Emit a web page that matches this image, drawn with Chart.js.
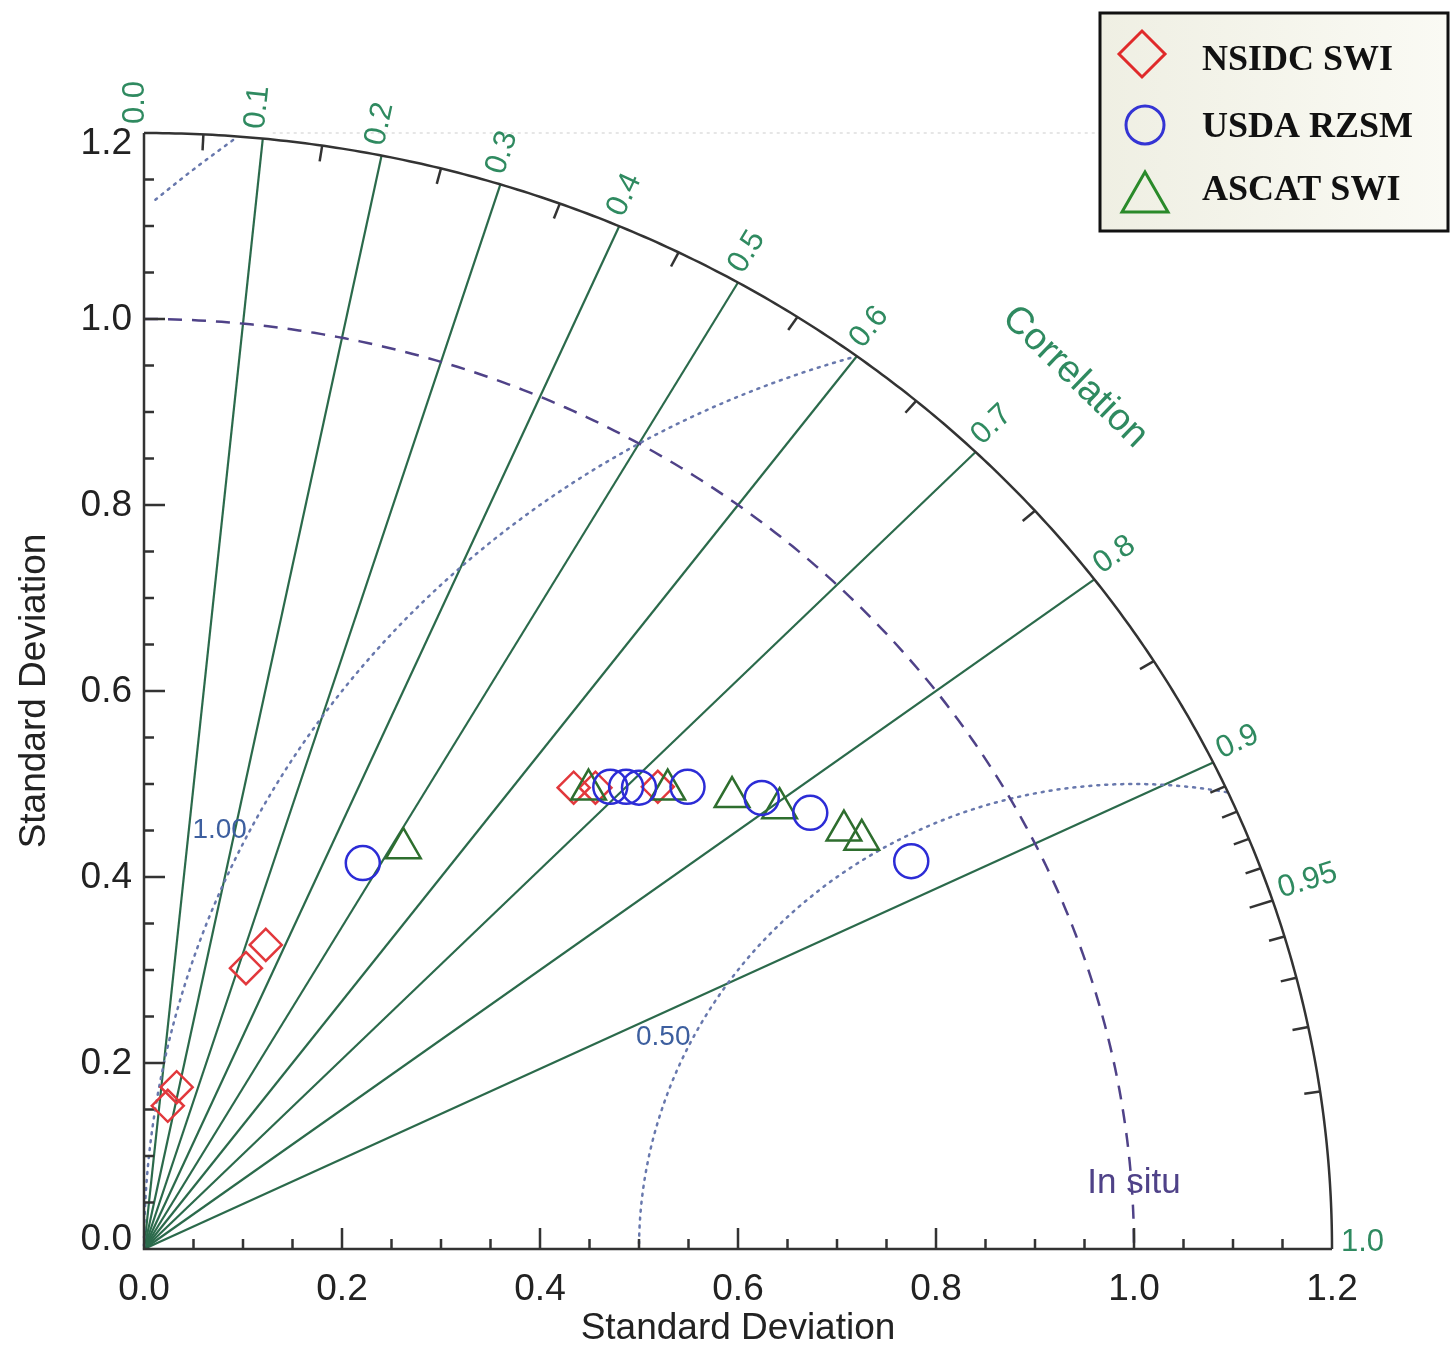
<!DOCTYPE html>
<html>
<head>
<meta charset="utf-8">
<script src="https://cdn.jsdelivr.net/npm/chart.js@4.4.0/dist/chart.umd.min.js"></script>
<style>
  html, body { margin: 0; padding: 0; background: #fff; }
  #wrap { width: 1450px; height: 1351px; }
</style>
</head>
<body>
<div id="wrap"><canvas id="taylor" width="1450" height="1351"></canvas></div>
<script>
// points as (x, y) in standard deviation units
const nsidcX = [0.024, 0.033, 0.103, 0.123, 0.434, 0.456, 0.519]
const nsidcY = [0.154, 0.174, 0.302, 0.327, 0.496, 0.496, 0.497]
const usdaX = [0.221, 0.471, 0.487, 0.500, 0.549, 0.624, 0.673, 0.775]
const usdaY = [0.415, 0.497, 0.497, 0.496, 0.497, 0.485, 0.469, 0.417]
const ascatX = [0.262, 0.449, 0.529, 0.594, 0.642, 0.707, 0.725]
const ascatY = [0.431, 0.494, 0.494, 0.486, 0.474, 0.450, 0.440]

const seriesNames = ['NSIDC SWI', 'USDA RZSM', 'ASCAT SWI']

const stdTicks = [0, 0.2, 0.4, 0.6, 0.8, 1.0, 1.2]
const stdTickLabels = ['0.0', '0.2', '0.4', '0.6', '0.8', '1.0', '1.2']
const stdMinorStep = 0.05
const stdMax = 1.2
const refStd = 1.0

const corrLines = [0.1, 0.2, 0.3, 0.4, 0.5, 0.6, 0.7, 0.8, 0.9]
const corrLabelVals = [0.0, 0.1, 0.2, 0.3, 0.4, 0.5, 0.6, 0.7, 0.8, 0.9, 0.95, 1.0]
const corrLabels = ['0.0', '0.1', '0.2', '0.3', '0.4', '0.5', '0.6', '0.7', '0.8', '0.9', '0.95', '1.0']
const corrMinor = [0.05, 0.15, 0.25, 0.35, 0.45, 0.55, 0.65, 0.75, 0.85,
  0.91, 0.92, 0.93, 0.94, 0.96, 0.97, 0.98, 0.99]
const corrMid = [0.95]

const rmsLevels = [0.5, 1.0, 1.5]
const rmsLabelLevels = [0.5, 1.0]
const rmsLabels = ['0.50', '1.00']
const rmsLabelY = [0.228, 0.45]

const toPoints = (xs, ys) => xs.map((x, i) => ({ x: x, y: ys[i] }))

const SANS = '"Liberation Sans", Arial, Helvetica, sans-serif'
const SERIF = '"Liberation Serif", "Times New Roman", serif'
const GREEN_LINE = '#2b6a4b'
const GREEN_TEXT = '#2f8a60'
const RMS_COLOR = '#6878ad'
const REF_COLOR = '#4f4288'

function helpersFor(chart) {
  const xs = chart.scales.x
  const ys = chart.scales.y
  const X = (v) => xs.getPixelForValue(v)
  const Y = (v) => ys.getPixelForValue(v)
  const P = (r, a) => [X(r * Math.cos(a)), Y(r * Math.sin(a))]
  return { X, Y, P }
}

function strokeCurve(ctx, pts) {
  if (pts.length < 2) return
  ctx.beginPath()
  ctx.moveTo(pts[0][0], pts[0][1])
  for (let i = 1; i < pts.length; i++) ctx.lineTo(pts[i][0], pts[i][1])
  ctx.stroke()
}

const taylorGrid = {
  id: 'taylorGrid',
  beforeDatasetsDraw(chart) {
    const ctx = chart.ctx
    const { X, Y, P } = helpersFor(chart)
    const ox = X(0), oy = Y(0)
    ctx.save()

    // faint dotted top line
    ctx.strokeStyle = '#e6e6e6'
    ctx.lineWidth = 2
    ctx.setLineDash([3, 4])
    ctx.beginPath()
    ctx.moveTo(X(0.13), Y(stdMax))
    ctx.lineTo(X(0.97), Y(stdMax))
    ctx.stroke()

    // correlation rays
    ctx.setLineDash([])
    ctx.strokeStyle = GREEN_LINE
    ctx.lineWidth = 2.2
    corrLines.forEach((c) => {
      const a = Math.acos(c)
      const e = P(stdMax, a)
      ctx.beginPath()
      ctx.moveTo(ox, oy)
      ctx.lineTo(e[0], e[1])
      ctx.stroke()
    })

    // centred RMS contours (dotted)
    ctx.strokeStyle = RMS_COLOR
    ctx.lineWidth = 2.5
    ctx.setLineDash([2, 6])
    ctx.lineCap = 'round'
    rmsLevels.forEach((R) => {
      let seg = []
      for (let i = 0; i <= 400; i++) {
        const phi = Math.PI * i / 400
        const x = refStd + R * Math.cos(phi)
        const y = R * Math.sin(phi)
        if (x >= 0 && y >= 0 && x * x + y * y <= stdMax * stdMax + 1e-9) {
          seg.push([X(x), Y(y)])
        } else {
          strokeCurve(ctx, seg)
          seg = []
        }
      }
      strokeCurve(ctx, seg)
    })
    ctx.lineCap = 'butt'

    // reference std arc (dashed)
    ctx.strokeStyle = REF_COLOR
    ctx.lineWidth = 2.5
    ctx.setLineDash([14, 10])
    const ref = []
    for (let i = 0; i <= 200; i++) ref.push(P(refStd, Math.PI / 2 * (1 - i / 200)))
    strokeCurve(ctx, ref)
    ctx.setLineDash([])

    // outer arc
    ctx.strokeStyle = '#333'
    ctx.lineWidth = 2.5
    const outer = []
    for (let i = 0; i <= 300; i++) outer.push(P(stdMax, Math.PI / 2 * i / 300))
    strokeCurve(ctx, outer)

    // axes
    ctx.beginPath()
    ctx.moveTo(X(0), Y(stdMax))
    ctx.lineTo(X(0), Y(0))
    ctx.lineTo(X(stdMax), Y(0))
    ctx.stroke()

    // axis ticks, inward
    ctx.lineWidth = 2.5
    const nMinor = Math.round(stdMax / stdMinorStep)
    for (let k = 1; k < nMinor; k++) {
      const v = k * stdMinorStep
      const major = k % 4 === 0
      const len = major ? 21 : 10
      ctx.beginPath()
      ctx.moveTo(X(v), Y(0))
      ctx.lineTo(X(v), Y(0) - len)
      ctx.moveTo(X(0), Y(v))
      ctx.lineTo(X(0) + len, Y(v))
      ctx.stroke()
    }

    // ticks on the correlation arc
    const arcTick = (c, len) => {
      const a = Math.acos(c)
      const e = P(stdMax, a)
      const dx = e[0] - ox, dy = e[1] - oy
      const d = Math.hypot(dx, dy)
      ctx.beginPath()
      ctx.moveTo(e[0], e[1])
      ctx.lineTo(e[0] - dx / d * len, e[1] - dy / d * len)
      ctx.stroke()
    }
    corrMinor.forEach((c) => arcTick(c, 16))
    corrMid.forEach((c) => arcTick(c, 24))

    ctx.restore()
  },
  afterDraw(chart) {
    const ctx = chart.ctx
    const { X, Y, P } = helpersFor(chart)
    const ox = X(0), oy = Y(0)
    ctx.save()

    // std tick labels
    ctx.fillStyle = '#222'
    ctx.font = '37px ' + SANS
    ctx.textAlign = 'center'
    ctx.textBaseline = 'alphabetic'
    stdTicks.forEach((v, i) => ctx.fillText(stdTickLabels[i], X(v), Y(0) + 51))
    ctx.textAlign = 'right'
    ctx.textBaseline = 'middle'
    stdTicks.forEach((v, i) => {
      let y = Y(v) + 1
      if (i === 0) y = Y(v) - 9
      if (i === stdTicks.length - 1) y = Y(v) + 11
      ctx.fillText(stdTickLabels[i], X(0) - 12, y)
    })

    // axis titles
    ctx.font = '37px ' + SANS
    ctx.textAlign = 'center'
    ctx.textBaseline = 'middle'
    ctx.fillText('Standard Deviation', X(0.6), Y(0) + 80)
    ctx.save()
    ctx.translate(X(0) - 109, Y(0.6))
    ctx.rotate(-Math.PI / 2)
    ctx.fillText('Standard Deviation', 0, 0)
    ctx.restore()

    // correlation labels
    ctx.fillStyle = GREEN_TEXT
    ctx.font = '31px ' + SANS
    ctx.textAlign = 'left'
    ctx.textBaseline = 'alphabetic'
    corrLabelVals.forEach((c, i) => {
      const a = Math.acos(c)
      const e = P(stdMax, a)
      const dx = e[0] - ox, dy = e[1] - oy
      const d = Math.hypot(dx, dy)
      ctx.save()
      ctx.translate(e[0] + dx / d * 9, e[1] + dy / d * 9 - (c === 1 ? -2 : 0))
      ctx.rotate(Math.atan2(dy, dx))
      ctx.fillText(corrLabels[i], 0, 0)
      ctx.restore()
    })
    ctx.save()
    ctx.font = '38px ' + SANS
    ctx.textAlign = 'center'
    ctx.textBaseline = 'middle'
    ctx.translate(1075, 377)
    ctx.rotate(44 * Math.PI / 180)
    ctx.fillText('Correlation', 0, 0)
    ctx.restore()

    // RMS contour labels
    ctx.fillStyle = '#3d5f9f'
    ctx.font = '28px ' + SANS
    ctx.textAlign = 'right'
    ctx.textBaseline = 'middle'
    rmsLabelLevels.forEach((R, i) => {
      const y = rmsLabelY[i]
      const x = refStd - Math.sqrt(R * R - y * y)
      ctx.fillText(rmsLabels[i], X(x) - 3, Y(y))
    })

    // reference label
    ctx.fillStyle = REF_COLOR
    ctx.font = '35px ' + SANS
    ctx.textAlign = 'center'
    ctx.fillText('In situ', X(refStd), Y(0.071))

    // legend box
    const lx = 1100, ly = 13, lw = 348, lh = 218
    const g = ctx.createLinearGradient(lx, 0, lx + lw, 0)
    g.addColorStop(0, '#efefe3')
    g.addColorStop(1, '#fafaf4')
    ctx.fillStyle = g
    ctx.fillRect(lx, ly, lw, lh)
    ctx.strokeStyle = '#111'
    ctx.lineWidth = 3
    ctx.strokeRect(lx, ly, lw, lh)

    ctx.lineWidth = 3
    ctx.strokeStyle = '#e02a2a'
    ctx.beginPath()
    ctx.moveTo(1119, 54); ctx.lineTo(1142, 31); ctx.lineTo(1165, 54); ctx.lineTo(1142, 77)
    ctx.closePath(); ctx.stroke()
    ctx.strokeStyle = '#3434d4'
    ctx.beginPath()
    ctx.arc(1145, 125, 19, 0, Math.PI * 2)
    ctx.stroke()
    ctx.strokeStyle = '#2a8a2a'
    ctx.beginPath()
    ctx.moveTo(1145, 172); ctx.lineTo(1168, 212); ctx.lineTo(1122, 212)
    ctx.closePath(); ctx.stroke()

    ctx.fillStyle = '#111'
    ctx.font = 'bold 36px ' + SERIF
    ctx.textAlign = 'left'
    ctx.textBaseline = 'alphabetic'
    ctx.fillText(seriesNames[0], 1202, 70)
    ctx.fillText(seriesNames[1], 1202, 137)
    ctx.fillText(seriesNames[2], 1202, 200)

    ctx.restore()
  }
}

const ctx = document.getElementById('taylor').getContext('2d')
new Chart(ctx, {
  type: 'scatter',
  data: {
    datasets: [
      {
        label: seriesNames[0],
        data: toPoints(nsidcX, nsidcY),
        pointStyle: 'rectRot',
        pointRadius: 16,
        borderColor: '#e2383c',
        backgroundColor: 'rgba(0,0,0,0)',
        borderWidth: 2.5,
        order: 3
      },
      {
        label: seriesNames[1],
        data: toPoints(usdaX, usdaY),
        pointStyle: 'circle',
        pointRadius: 17,
        borderColor: '#2c2cd6',
        backgroundColor: 'rgba(0,0,0,0)',
        borderWidth: 2.5,
        order: 1
      },
      {
        label: seriesNames[2],
        data: toPoints(ascatX, ascatY),
        pointStyle: 'triangle',
        pointRadius: 20,
        borderColor: '#2e6e2e',
        backgroundColor: 'rgba(0,0,0,0)',
        borderWidth: 2.5,
        order: 2
      }
    ]
  },
  options: {
    responsive: false,
    animation: false,
    devicePixelRatio: 1,
    layout: { padding: { left: 144, top: 133, right: 118, bottom: 102 } },
    scales: {
      x: { type: 'linear', min: 0, max: stdMax, display: false },
      y: { type: 'linear', min: 0, max: stdMax, display: false }
    },
    plugins: {
      legend: { display: false },
      tooltip: { enabled: false }
    }
  },
  plugins: [taylorGrid]
})
</script>
</body>
</html>
